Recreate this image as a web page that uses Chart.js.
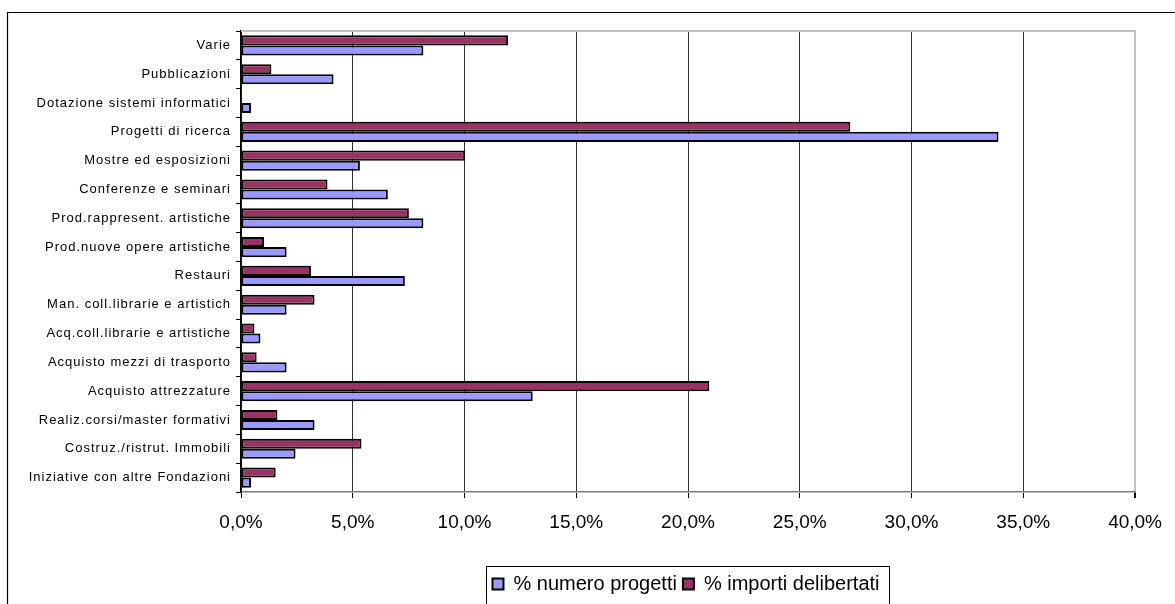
<!DOCTYPE html>
<html>
<head>
<meta charset="utf-8">
<script src="https://cdn.jsdelivr.net/npm/chart.js@4/dist/chart.umd.min.js"></script>
<style>
  html, body { margin: 0; padding: 0; background: #fff; }
  #wrap { width: 1175px; height: 604px; position: relative; }
</style>
</head>
<body>
<div id="wrap"><canvas id="c" width="1175" height="604"></canvas></div>
<script>
// ---- data (top to bottom as shown) ----
const categories = [
  'Varie',
  'Pubblicazioni',
  'Dotazione sistemi informatici',
  'Progetti di ricerca',
  'Mostre ed esposizioni',
  'Conferenze e seminari',
  'Prod.rappresent. artistiche',
  'Prod.nuove opere artistiche',
  'Restauri',
  'Man. coll.librarie e artistich',
  'Acq.coll.librarie e artistiche',
  'Acquisto mezzi di trasporto',
  'Acquisto attrezzature',
  'Realiz.corsi/master formativi',
  'Costruz./ristrut. Immobili',
  'Iniziative con altre Fondazioni'
];
const numeroProgetti = [8.16, 4.14, 0.45, 33.89, 5.32, 6.57, 8.16, 2.04, 7.33, 2.04, 0.87, 2.04, 13.05, 3.29, 2.44, 0.45];
const importiDeliberati = [11.95, 1.36, 0, 27.26, 10.03, 3.87, 7.51, 1.03, 3.13, 3.29, 0.60, 0.70, 20.95, 1.63, 5.39, 1.55];
const seriesNames = ['% numero progetti', '% importi delibertati'];
const xTickValues = [0, 5, 10, 15, 20, 25, 30, 35, 40];
const xTickLabels = ['0,0%', '5,0%', '10,0%', '15,0%', '20,0%', '25,0%', '30,0%', '35,0%', '40,0%'];

// category scale with Excel-like letter spacing on its labels
class SpacedCategoryScale extends Chart.CategoryScale {
  drawLabels(chartArea) {
    const ctx = this.ctx;
    ctx.save();
    ctx.letterSpacing = '1px';
    super.drawLabels(chartArea);
    ctx.restore();
  }
}
SpacedCategoryScale.id = 'spacedCategory';
SpacedCategoryScale.defaults = Chart.CategoryScale.defaults;
Chart.register(SpacedCategoryScale);

const LEGEND_SHIFT = 118;

const framePlugin = {
  id: 'frame',
  afterLayout(chart) {
    const lg = chart.legend;
    if (lg) {
      lg.left += LEGEND_SHIFT;
      lg.right += LEGEND_SHIFT;
      if (typeof lg.adjustHitBoxes === 'function') lg.adjustHitBoxes();
    }
  },
  afterDraw(chart) {
    const ctx = chart.ctx;
    const a = chart.chartArea;
    ctx.save();
    // outer frame (clipped at right/bottom)
    ctx.strokeStyle = '#000';
    ctx.lineWidth = 1.2;
    ctx.beginPath();
    ctx.moveTo(7.5, 610);
    ctx.lineTo(7.5, 12.5);
    ctx.lineTo(1180, 12.5);
    ctx.stroke();
    // plot area top border
    ctx.strokeStyle = '#c0c0c0';
    ctx.lineWidth = 2;
    ctx.beginPath();
    ctx.moveTo(a.left, a.top);
    ctx.lineTo(a.right + 1, a.top);
    ctx.stroke();
    // legend frame
    const lg = chart.legend;
    if (lg && lg.legendHitBoxes && lg.legendHitBoxes.length) {
      const hb = lg.legendHitBoxes;
      const l = hb[0].left - 6.5;
      const last = hb[hb.length - 1];
      const r = last.left + last.width + 9.5;
      ctx.strokeStyle = '#000';
      ctx.lineWidth = 1;
      ctx.strokeRect(Math.round(l) + 0.5, Math.round(lg.top) - 1.5, Math.round(r - l), 60);
    }
    ctx.restore();
  }
};

new Chart(document.getElementById('c'), {
  type: 'bar',
  data: {
    labels: categories,
    datasets: [
      {
        label: seriesNames[1],
        data: importiDeliberati,
        backgroundColor: '#993366',
        borderColor: '#000',
        borderWidth: 2,
        borderSkipped: false
      },
      {
        label: seriesNames[0],
        data: numeroProgetti,
        backgroundColor: '#9999FF',
        borderColor: '#000',
        borderWidth: 2,
        borderSkipped: false
      }
    ]
  },
  options: {
    indexAxis: 'y',
    responsive: false,
    animation: false,
    devicePixelRatio: 1,
    layout: { padding: { top: 31, right: 39, bottom: 0, left: 0 } },
    datasets: { bar: { categoryPercentage: 0.7, barPercentage: 1.0 } },
    plugins: {
      tooltip: { enabled: false },
      legend: {
        position: 'bottom',
        reverse: true,
        labels: {
          boxWidth: 11,
          boxHeight: 11,
          padding: 6,
          color: '#000',
          font: { family: 'Liberation Sans, Arial, sans-serif', size: 20 }
        }
      }
    },
    scales: {
      x: {
        type: 'linear',
        min: 0,
        max: 40,
        afterBuildTicks(scale) { scale.ticks = xTickValues.map(v => ({ value: v })); },
        afterFit(scale) { scale.height = 76; },
        ticks: {
          color: '#000',
          padding: 13,
          font: { family: 'Liberation Sans, Arial, sans-serif', size: 19 },
          callback(value) { const i = xTickValues.indexOf(value); return i >= 0 ? xTickLabels[i] : ''; }
        },
        grid: {
          color: (c) => (c.tick && c.tick.value === 40 ? '#c0c0c0' : '#303030'),
          lineWidth: (c) => (c.tick && c.tick.value === 40 ? 2 : 1),
          tickColor: '#000',
          tickLength: 6
        },
        border: { color: '#808080', width: 1.5 }
      },
      y: {
        type: 'spacedCategory',
        afterFit(scale) { scale.width = 241; },
        ticks: {
          color: '#000',
          padding: 5,
          font: { family: 'Liberation Sans, Arial, sans-serif', size: 13 }
        },
        grid: {
          offset: true,
          drawOnChartArea: false,
          color: '#000',
          tickLength: 5
        },
        border: { color: '#000', width: 1.5 }
      }
    }
  },
  plugins: [framePlugin]
});
</script>
</body>
</html>
